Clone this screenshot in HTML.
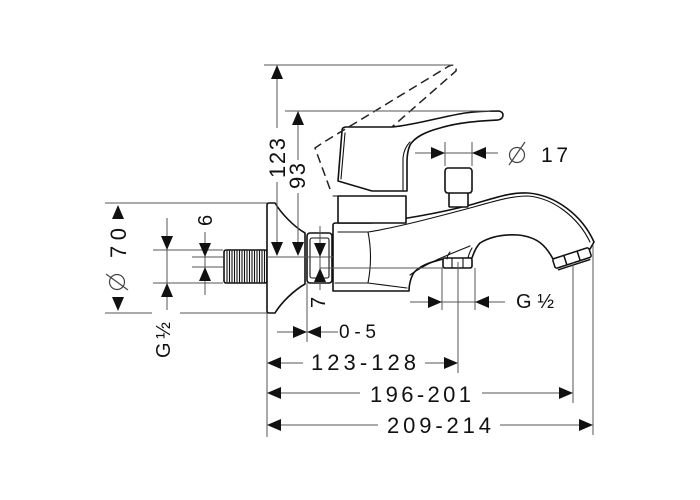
<!DOCTYPE html>
<html><head><meta charset="utf-8"><style>
html,body{margin:0;padding:0;background:#fff;}
svg{display:block;}
text{font-family:"Liberation Sans",sans-serif;fill:#111;}
</style></head><body>
<svg width="700" height="500" viewBox="0 0 700 500" xmlns="http://www.w3.org/2000/svg">
<rect width="700" height="500" fill="#fff"/>

<!-- ========== FAUCET OUTLINES ========== -->
<g fill="#fff" stroke="#111" stroke-width="1.6" stroke-linejoin="round" stroke-linecap="round">
  <!-- thread -->
  <rect x="224" y="250" width="43" height="33" rx="2"/>
  <!-- flange -->
  <path d="M267,205 Q267,203 269,203 L275,203 C281,213 293,226 305,233 L305,284 C293,291 281,303 275,313 L269,313 Q267,313 267,311 Z"/>
  <!-- nut -->
  <rect x="307" y="233" width="25" height="50" rx="3"/>
  <!-- body + spout -->
  <path d="M333,291 L333,225 Q333,223 336,223 L370,223 C400,220 440,213 470,205 C495,198 510,192 528,193 C555,195 582,215 594,242 L590,249 L553,259 C546,246 538,237 518,235 C500,234 488,238 480,243 C476,247 474,252 472,258 L443,259 C432,262 419,265 413,274 C410,280 409,286 409,291 Z"/>
  <!-- handle cylinder -->
  <rect x="338" y="196" width="68" height="27"/>
  <!-- handle body + lever -->
  <path d="M338,181 L342,131 Q342,127 346,127 L392,127 C415,125 440,117 465,113 C480,111 492,111 499,111 Q503,112 503,115 Q503,119 498,120 C480,121 460,122 440,128 C425,132 415,137 410,145 Q407,152 407,162 L407,191 L372,191 Z"/>
  <!-- shower diverter cap -->
  <rect x="449" y="190" width="19" height="17" rx="1"/>
  <rect x="445" y="168" width="27" height="25" rx="3"/>
  <!-- diverter nut underneath -->
  <rect x="443" y="258" width="29" height="10" rx="2"/>
</g>

<!-- aerator -->
<g transform="translate(572,258) rotate(-18)" fill="#fff" stroke="#111" stroke-width="1.5">
  <rect x="-19" y="-5" width="38" height="10" rx="2"/>
  <path d="M-7,-5 V5 M7,-5 V5 M-17,7 H17" fill="none"/>
</g>

<!-- inner detail lines -->
<g fill="none" stroke="#111" stroke-width="1.1" stroke-linecap="round">
  <!-- thread hatch -->
  <path d="M227,251V282 M229.5,251V282 M232,251V282 M234.5,251V282 M237,251V282 M239.5,251V282 M242,251V282 M244.5,251V282 M247,251V282 M249.5,251V282 M252,251V282 M254.5,251V282 M257,251V282 M259.5,251V282 M262,251V282 M264.5,251V282"/>
  <!-- nut inner -->
  <rect x="310" y="238" width="19" height="40" rx="2"/>
  <!-- body inner -->
  <path d="M338,232 L368,232 C395,228 440,216 470,208 C495,201 511,196 528,196 C553,198 578,217 590,242"/>
  <path d="M368,232 Q373,257 368,283"/>
  <path d="M335,283 L368,283 L407,288"/>
  <path d="M410,275 C425,264 445,256 470,246"/>
  <path d="M450,252 Q447,256 447,259 M472,248 Q469,253 468,258"/>
  <path d="M452,258 V268 M463,258 V268"/>
  <!-- handle inner -->
  <path d="M345,133 L341,179"/>
  <path d="M403,190 V158 Q404,148 410,142"/>
  <path d="M333,196 H338"/>
  <path d="M446,193 H471"/>
</g>

<!-- dashed raised handle -->
<path d="M330,189 L315,148 L324,142 L449,66 Q457,63 456,71 L392,127" fill="none" stroke="#222" stroke-width="1.5" stroke-dasharray="9 5"/>

<!-- ========== DIMENSION LINES ========== -->
<g fill="none" stroke="#555" stroke-width="1">
  <path d="M264,65 H453"/>
  <path d="M285,111 H490"/>
  <path d="M277,79 V128 M277,182 V243"/>
  <path d="M298,125 V160 M298,193 V243"/>
  <path d="M105,203 H267"/>
  <path d="M105,313 H152 M180,313 H267"/>
  <path d="M167,218 V310"/>
  <path d="M153,250 H223 M153,283 H223"/>
  <path d="M205,232 V295"/>
  <path d="M192,257 H223 M192,267 H223"/>
  <path d="M267,257 H333"/>
  <path d="M320,226 V290"/>
  <path d="M320,268 H443"/>
  <path d="M458,262 V373"/>
  <path d="M442,268 V310 M475,268 V310"/>
  <path d="M410,302 H505"/>
  <path d="M445,142 V166 M472,142 V166"/>
  <path d="M415,153 H498"/>
  <path d="M267,313 V437"/>
  <path d="M307,283 V342"/>
  <path d="M573,262 V403"/>
  <path d="M593,245 V435"/>
  <path d="M277,332 H293 M321,332 H338"/>
  <path d="M281,363 H303 M425,363 H444"/>
  <path d="M281,393 H360 M482,393 H559"/>
  <path d="M281,425 H378 M500,425 H579"/>
</g>

<!-- arrows -->
<g fill="#111">
  <!-- up -->
  <polygon points="277,65 271,79 283,79"/>
  <polygon points="298,111 292,125 304,125"/>
  <polygon points="118,205 112,219 124,219"/>
  <polygon points="167,283 161,297 173,297"/>
  <polygon points="205,267 199,281 211,281"/>
  <polygon points="320,268 314,282 326,282"/>
  <!-- down -->
  <polygon points="118,311 112,297 124,297"/>
  <polygon points="167,250 161,236 173,236"/>
  <polygon points="205,257 199,243 211,243"/>
  <polygon points="277,256 271,242 283,242"/>
  <polygon points="298,256 292,242 304,242"/>
  <polygon points="320,257 314,243 326,243"/>
  <!-- right -->
  <polygon points="445,153 431,147 431,159"/>
  <polygon points="442,302 428,296 428,308"/>
  <polygon points="307,332 293,326 293,338"/>
  <polygon points="458,363 444,357 444,369"/>
  <polygon points="573,393 559,387 559,399"/>
  <polygon points="593,425 579,419 579,431"/>
  <!-- left -->
  <polygon points="472,153 486,147 486,159"/>
  <polygon points="475,302 489,296 489,308"/>
  <polygon points="307,332 321,326 321,338"/>
  <polygon points="267,363 281,357 281,369"/>
  <polygon points="267,393 281,387 281,399"/>
  <polygon points="267,425 281,419 281,431"/>
</g>

<!-- diameter symbols -->
<g fill="none" stroke="#444" stroke-width="1.2">
  <circle cx="517" cy="155" r="7.5"/>
  <path d="M509,165 L525,142"/>
  <circle cx="117" cy="282" r="7.5"/>
  <path d="M106,274 L128,290"/>
</g>

<!-- ========== LABELS ========== -->
<text x="541" y="162" font-size="21" textLength="27" lengthAdjust="spacing">17</text>
<text x="516" y="308" font-size="20" textLength="38" lengthAdjust="spacing">G ½</text>
<text x="339" y="338" font-size="19" textLength="37" lengthAdjust="spacing">0-5</text>
<text x="311" y="370" font-size="22" textLength="105" lengthAdjust="spacing">123-128</text>
<text x="370" y="402" font-size="22" textLength="101" lengthAdjust="spacing">196-201</text>
<text x="387" y="433" font-size="22" textLength="104" lengthAdjust="spacing">209-214</text>

<g transform="translate(277,158) rotate(-90)"><text x="-20" y="8" font-size="22" textLength="40" lengthAdjust="spacing">123</text></g>
<g transform="translate(297,176) rotate(-90)"><text x="-13" y="8" font-size="22" textLength="26" lengthAdjust="spacing">93</text></g>
<g transform="translate(118,243) rotate(-90)"><text x="-15" y="8" font-size="22" textLength="30" lengthAdjust="spacing">70</text></g>
<g transform="translate(163,340) rotate(-90)"><text x="-18" y="7" font-size="20" textLength="36" lengthAdjust="spacing">G ½</text></g>
<g transform="translate(205,220) rotate(-90)"><text x="-6" y="7" font-size="20">6</text></g>
<g transform="translate(318,302) rotate(-90)"><text x="-6" y="7" font-size="20">7</text></g>
</svg>
</body></html>
